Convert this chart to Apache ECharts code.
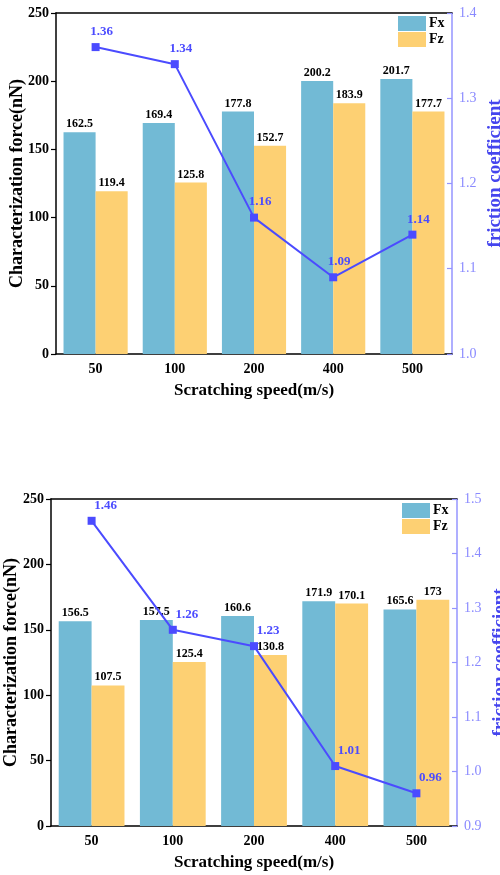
<!DOCTYPE html>
<html>
<head>
<meta charset="utf-8">
<script src="https://cdn.jsdelivr.net/npm/echarts@6/dist/echarts.min.js"></script>
<style>
  html, body { margin: 0; padding: 0; background: #fff; }
  #chart { width: 500px; height: 875px; }
</style>
</head>
<body>
<div id="chart"></div>
<script>
// Scratching speeds (m/s)
const speeds = ['50', '100', '200', '400', '500'];

// Upper panel
const fxTop = [162.5, 169.4, 177.8, 200.2, 201.7];
const fzTop = [119.4, 125.8, 152.7, 183.9, 177.7];
const muTop = [1.36, 1.34, 1.16, 1.09, 1.14];

// Lower panel
const fxBottom = [156.5, 157.5, 160.6, 171.9, 165.6];
const fzBottom = [107.5, 125.4, 130.8, 170.1, 173];
const muBottom = [1.46, 1.26, 1.23, 1.01, 0.96];

const FONT = 'Liberation Serif';
const FX_COLOR = '#72bad5';
const FZ_COLOR = '#fdd073';
const MU_COLOR = '#4b4bff';
const RIGHT_AXIS_COLOR = '#9494ff';

const grids = [
  { left: 56, top: 13, width: 396, height: 341, containLabel: false, outerBoundsMode: 'none' },
  { left: 51, top: 499, width: 406, height: 327, containLabel: false, outerBoundsMode: 'none' }
];

function xAxes(gi) {
  return [
    {
      type: 'category', gridIndex: gi, data: speeds, position: 'bottom',
      axisLine: { lineStyle: { color: '#000', width: 1.5 } },
      axisTick: { alignWithLabel: true, inside: true, length: 5, lineStyle: { color: '#000', width: 1.2 } },
      axisLabel: { color: '#000', fontFamily: FONT, fontWeight: 'bold', fontSize: 14, margin: 8 },
      name: 'Scratching speed(m/s)', nameLocation: 'middle', nameGap: 28,
      nameMoveOverlap: false,
      nameTextStyle: { color: '#000', fontFamily: FONT, fontWeight: 'bold', fontSize: 17 }
    },
    {
      type: 'category', gridIndex: gi, data: speeds, position: 'top',
      axisLine: { lineStyle: { color: '#000', width: 1.5 } },
      axisTick: { show: false }, axisLabel: { show: false }
    }
  ];
}

function yAxes(gi, rmin, rmax, leftGap, rightGap, rightNamePad) {
  return [
    {
      type: 'value', gridIndex: gi, position: 'left', min: 0, max: 250, interval: 50,
      splitLine: { show: false },
      axisLine: { show: true, lineStyle: { color: '#000', width: 1.5 } },
      axisTick: { show: true, length: 5, lineStyle: { color: '#000', width: 1.2 } },
      axisLabel: { color: '#000', fontFamily: FONT, fontWeight: 'bold', fontSize: 14, margin: 7 },
      name: 'Characterization force(nN)', nameLocation: 'middle', nameGap: leftGap,
      nameMoveOverlap: false,
      nameTextStyle: { color: '#000', fontFamily: FONT, fontWeight: 'bold', fontSize: 18 }
    },
    {
      type: 'value', gridIndex: gi, position: 'right', min: rmin, max: rmax, interval: 0.1,
      splitLine: { show: false },
      axisLine: { show: true, lineStyle: { color: RIGHT_AXIS_COLOR, width: 1.5 } },
      axisTick: { show: true, inside: true, length: 5, lineStyle: { color: RIGHT_AXIS_COLOR, width: 1.2 } },
      axisLabel: { color: '#8a8aff', fontFamily: FONT, fontSize: 14, margin: 7,
        formatter: v => v.toFixed(1) },
      name: 'friction coefficient', nameLocation: 'middle', nameGap: rightGap, nameRotate: 90,
      nameMoveOverlap: false,
      nameTextStyle: { color: '#4545ee', fontFamily: FONT, fontWeight: 'bold', fontSize: 19,
        padding: [0, 0, 0, rightNamePad] }
    }
  ];
}

function barSeries(name, data, color, gi) {
  return {
    name, type: 'bar', data,
    xAxisIndex: gi * 2, yAxisIndex: gi * 2,
    barGap: '0%', barCategoryGap: '19%',
    itemStyle: { color },
    label: { show: true, position: 'top', distance: 2, color: '#000',
      fontFamily: FONT, fontWeight: 'bold', fontSize: 12 },
    z: 2
  };
}

function lineSeries(data, gi, offset) {
  return {
    name: 'friction coefficient', type: 'line', data,
    xAxisIndex: gi * 2, yAxisIndex: gi * 2 + 1,
    symbol: 'rect', symbolSize: 8,
    lineStyle: { color: MU_COLOR, width: 2 },
    itemStyle: { color: MU_COLOR },
    label: { show: true, position: 'top', distance: 5, offset,
      color: MU_COLOR, fontFamily: FONT, fontWeight: 'bold', fontSize: 13,
      formatter: p => p.value.toFixed(2) },
    z: 5
  };
}

function legend(left, top) {
  return {
    data: ['Fx', 'Fz'], orient: 'vertical', left, top,
    icon: 'rect', itemWidth: 28, itemHeight: 15, itemGap: 1,
    selectedMode: false,
    textStyle: { color: '#000', fontFamily: FONT, fontWeight: 'bold', fontSize: 14, padding: [0, 0, 0, -2] }
  };
}

const chart = echarts.init(document.getElementById('chart'), null, { renderer: 'canvas' });
chart.setOption({
  animation: false,
  backgroundColor: '#fff',
  grid: grids,
  legend: [legend(393, 11), legend(397, 498)],
  xAxis: [...xAxes(0), ...xAxes(1)],
  yAxis: [...yAxes(0, 1.0, 1.4, 30, 34, 20), ...yAxes(1, 0.9, 1.5, 31, 34, 0)],
  series: [
    barSeries('Fx', fxTop, FX_COLOR, 0),
    barSeries('Fz', fzTop, FZ_COLOR, 0),
    lineSeries(muTop, 0, [6, 0]),
    barSeries('Fx', fxBottom, FX_COLOR, 1),
    barSeries('Fz', fzBottom, FZ_COLOR, 1),
    lineSeries(muBottom, 1, [14, 0])
  ]
});
</script>
</body>
</html>
